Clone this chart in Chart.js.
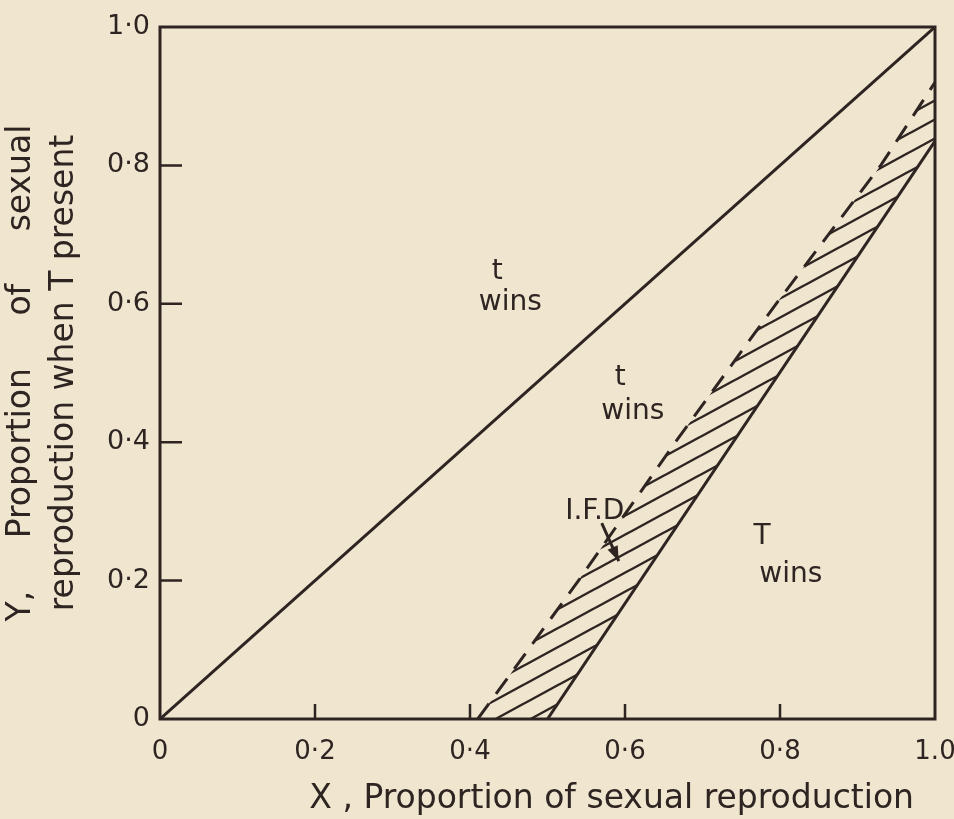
<!DOCTYPE html>
<html>
<head>
<meta charset="utf-8">
<script src="https://cdn.jsdelivr.net/npm/chart.js@4.4.0/dist/chart.umd.min.js"></script>
<style>
  html, body { margin: 0; padding: 0; background: #f0e6cf; }
  #wrap { width: 954px; height: 819px; }
</style>
</head>
<body>
<div id="wrap"><canvas id="myChart" width="954" height="819"></canvas></div>
<script>
const ink = '#2e2422';
const font = '"DejaVu Sans", sans-serif';

// axis ticks
const tickValues = [0, 0.2, 0.4, 0.6, 0.8, 1.0];
const xTickLabels = ['0', '0·2', '0·4', '0·6', '0·8', '1.0'];
const yTickLabels = ['0', '0·2', '0·4', '0·6', '0·8', '1·0'];

// diagonal Y = X
const diagX = [0, 1.0];
const diagY = [0, 1.0];
// I.F.D. line (dashed)
const ifdX = [0.41, 0.54, 0.665, 0.795, 0.93, 1.0];
const ifdY = [0, 0.2, 0.4, 0.6, 0.8, 0.92];
// T wins boundary (solid)
const solidX = [0.5, 1.0];
const solidY = [0, 0.835];

// region labels
const noteText = ['t', 'wins', 't', 'wins', 'T', 'wins', 'I.F.D'];
const noteX = [0.435, 0.452, 0.594, 0.610, 0.777, 0.814, 0.561];
const noteY = [0.646, 0.601, 0.493, 0.444, 0.263, 0.208, 0.299];
// arrow from the I.F.D label into the band
const arrowX = [0.570, 0.592];
const arrowY = [0.283, 0.228];

const pts = (xs, ys) => xs.map((v, i) => ({x: v, y: ys[i]}));

// diagonal hatching for the band between the two lines
function makeHatch() {
    const w = 35, h = 19;
    const c = document.createElement('canvas');
    c.width = w; c.height = h;
    const g = c.getContext('2d');
    g.strokeStyle = ink;
    g.lineWidth = 2.4;
    [-h, 0, h].forEach(off => {
        g.beginPath();
        g.moveTo(-w, 2 * h + off);
        g.lineTo(2 * w, -h + off);
        g.stroke();
    });
    return g.createPattern(c, 'repeat');
}

const frame = {
    id: 'frame',
    afterDatasetsDraw(chart) {
        const {ctx, chartArea: a, scales: {x, y}} = chart;
        ctx.save();
        ctx.strokeStyle = ink;
        ctx.lineWidth = 3;
        ctx.strokeRect(a.left, a.top, a.right - a.left, a.bottom - a.top);

        // inward tick marks
        ctx.lineWidth = 2.5;
        ctx.beginPath();
        tickValues.slice(1, -1).forEach(v => {
            const px = x.getPixelForValue(v);
            ctx.moveTo(px, a.bottom);
            ctx.lineTo(px, a.bottom - 15);
            const py = y.getPixelForValue(v);
            ctx.moveTo(a.left, py);
            ctx.lineTo(a.left + 22, py);
        });
        ctx.stroke();

        // labels
        ctx.fillStyle = ink;
        ctx.font = '28px ' + font;
        ctx.textAlign = 'center';
        ctx.textBaseline = 'middle';
        noteText.forEach((t, i) => {
            ctx.fillText(t, x.getPixelForValue(noteX[i]), y.getPixelForValue(noteY[i]));
        });

        // arrow
        const x0 = x.getPixelForValue(arrowX[0]), y0 = y.getPixelForValue(arrowY[0]);
        const x1 = x.getPixelForValue(arrowX[1]), y1 = y.getPixelForValue(arrowY[1]);
        const ang = Math.atan2(y1 - y0, x1 - x0);
        ctx.lineWidth = 3;
        ctx.beginPath();
        ctx.moveTo(x0, y0);
        ctx.lineTo(x1, y1);
        ctx.stroke();
        ctx.beginPath();
        ctx.moveTo(x1, y1);
        ctx.lineTo(x1 - 16 * Math.cos(ang - 0.35), y1 - 16 * Math.sin(ang - 0.35));
        ctx.lineTo(x1 - 16 * Math.cos(ang + 0.35), y1 - 16 * Math.sin(ang + 0.35));
        ctx.closePath();
        ctx.fill();
        ctx.restore();
    }
};

const lineBase = {showLine: true, pointRadius: 0, borderColor: ink, borderWidth: 3, fill: false};

new Chart(document.getElementById('myChart'), {
    type: 'scatter',
    data: {
        datasets: [
            {...lineBase, data: pts(diagX, diagY)},
            {...lineBase, data: pts(ifdX, ifdY), borderDash: [19, 12],
             fill: {target: 2}, backgroundColor: makeHatch()},
            // lower edge of the band: x axis then the solid line
            {...lineBase, borderWidth: 0,
             data: [{x: ifdX[0], y: 0}].concat(pts(solidX, solidY))},
            {...lineBase, data: pts(solidX, solidY)}
        ]
    },
    options: {
        responsive: false,
        animation: false,
        layout: {padding: {top: 27, right: 19, left: 0, bottom: 0}},
        plugins: {legend: {display: false}, tooltip: {enabled: false}},
        scales: {
            x: {
                type: 'linear', min: 0, max: 1,
                afterFit: s => { s.height = 100; s.paddingLeft = 0; s.paddingRight = 0; },
                afterBuildTicks: s => { s.ticks = tickValues.map(v => ({value: v})); },
                grid: {display: false},
                border: {display: false},
                ticks: {
                    color: ink, padding: 10, maxRotation: 0, autoSkip: false,
                    font: {family: font, size: 26},
                    callback: (v, i) => xTickLabels[i]
                },
                title: {
                    display: true, align: 'end', color: ink,
                    text: 'X , Proportion of sexual reproduction  ',
                    font: {family: font, size: 33, lineHeight: 1.2},
                    padding: {top: 0, bottom: 0}
                }
            },
            y: {
                type: 'linear', min: 0, max: 1,
                afterFit: s => { s.width = 160; s.paddingTop = 0; s.paddingBottom = 0; },
                afterBuildTicks: s => { s.ticks = tickValues.map(v => ({value: v})); },
                grid: {display: false},
                border: {display: false},
                ticks: {
                    color: ink, padding: 2, autoSkip: false,
                    font: {family: font, size: 27},
                    callback: (v, i) => yTickLabels[i]
                },
                title: {
                    display: true, color: ink,
                    text: ['Y,     Proportion     of     sexual', 'reproduction when T present'],
                    font: {family: font, size: 33, lineHeight: 1.3},
                    padding: {top: 0, bottom: 0}
                }
            }
        }
    },
    plugins: [frame]
});
</script>
</body>
</html>
